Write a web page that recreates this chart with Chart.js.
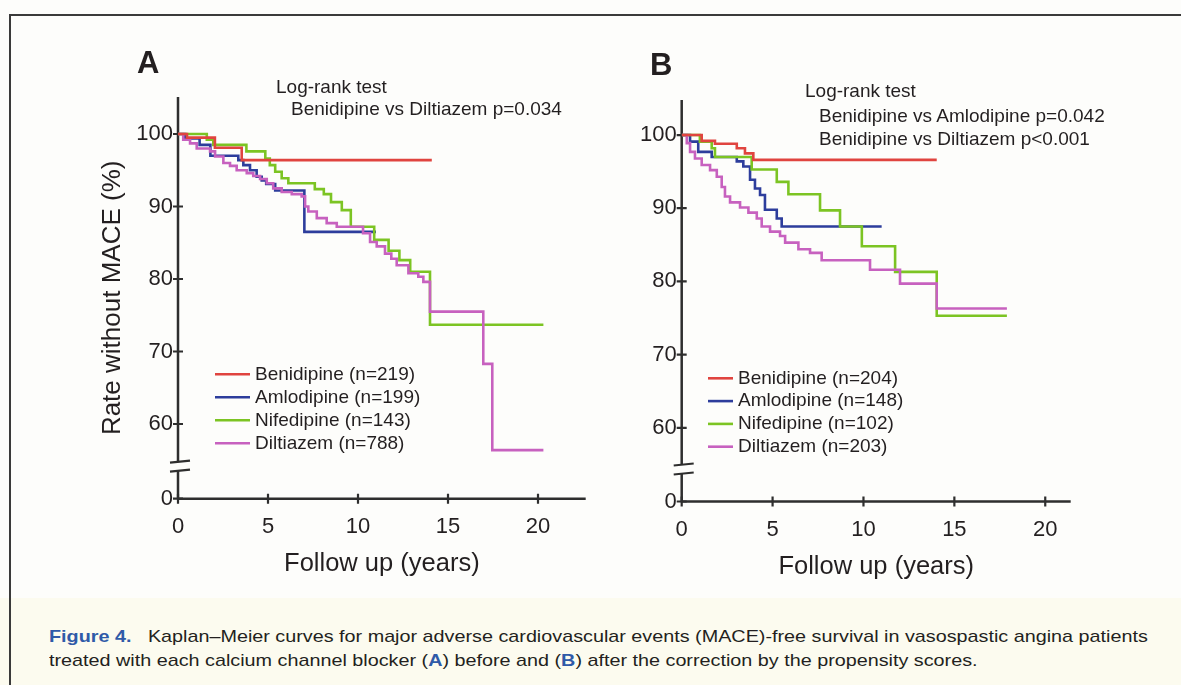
<!DOCTYPE html>
<html>
<head>
<meta charset="utf-8">
<script src="https://cdn.jsdelivr.net/npm/chart.js@4.4.0/dist/chart.umd.min.js"></script>
<style>
  html, body { margin: 0; padding: 0; background: #fdfdfb; }
  #page { position: relative; width: 1181px; height: 685px; overflow: hidden;
          font-family: "Liberation Sans", Arial, sans-serif; color: #231f20; }
  #band { position: absolute; left: 0; top: 598px; right: 0; bottom: 0; background: #fcfbef; }
  #frame { position: absolute; left: 9px; top: 14px; right: -5px; bottom: -5px;
           border-left: 2px solid #3a3a3a; border-top: 2px solid #3a3a3a; }
  canvas { position: absolute; top: 0; }
  .note { position: absolute; font-size: 19px; line-height: 19px; white-space: nowrap; }
  .letter { position: absolute; font-size: 31px; line-height: 31px; font-weight: bold; }
  .cap { position: absolute; left: 49px; font-size: 17px; line-height: 17px; white-space: nowrap;
         transform-origin: 0 0; }
  .fig { font-weight: bold; color: #2f5aa8; }
  .bl { font-weight: bold; color: #2f5aa8; }
</style>
</head>
<body>
<div id="page">
  <div id="band"></div>
  <div id="frame"></div>
  <canvas id="chartA" width="620" height="600" style="left:0px"></canvas>
  <canvas id="chartB" width="581" height="600" style="left:600px"></canvas>

  <div class="letter" style="left:137px; top:47px">A</div>
  <div class="letter" style="left:650px; top:49px">B</div>

  <div class="note" style="left:276px; top:77px">Log-rank test</div>
  <div class="note" style="left:291px; top:99px">Benidipine vs Diltiazem p=0.034</div>

  <div class="note" style="left:805px; top:81px">Log-rank test</div>
  <div class="note" style="left:819px; top:106px">Benidipine vs Amlodipine p=0.042</div>
  <div class="note" style="left:819px; top:129px">Benidipine vs Diltiazem p&lt;0.001</div>

  <div class="cap" id="cap1" style="top:628px"><span class="fig">Figure 4.</span>&nbsp;&nbsp;&nbsp;Kaplan–Meier curves for major adverse cardiovascular events (MACE)-free survival in vasospastic angina patients</div>
  <div class="cap" id="cap2" style="top:652px">treated with each calcium channel blocker (<span class="bl">A</span>) before and (<span class="bl">B</span>) after the correction by the propensity scores.</div>
</div>
<script>
// drugs and group sizes
const drugs = ['Benidipine', 'Amlodipine', 'Nifedipine', 'Diltiazem'];
const nBefore = [219, 199, 143, 788];
const nAfter = [204, 148, 102, 203];
const drugColors = ['#e0443f', '#2d3d9c', '#7cc423', '#c761bf'];
const drawOrder = [0, 3, 2, 1];   // lower = drawn on top

// axis ticks
const xTicks = [0, 5, 10, 15, 20];
const yTicks = [60, 70, 80, 90, 100];
const breakLabel = '0';

// Panel A (before correction): follow-up years and MACE-free rate (%)
const timeA_beni = [0, 0.5, 2.05, 3.54, 14.1];
const rateA_beni = [100, 99.5, 98.1, 96.4, 96.4];
const timeA_amlo = [0, 0.4, 1.2, 1.8, 3.35, 3.63, 4.0, 4.37, 4.65, 4.9, 5.4, 7.02, 11.0];
const rateA_amlo = [100, 99.4, 98.5, 97.0, 96.4, 95.7, 95.0, 94.1, 93.6, 93.1, 92.2, 86.5, 86.5];
const timeA_nife = [0, 1.6, 1.96, 3.8, 4.85, 5.1, 5.4, 5.76, 6.13, 7.6, 8.1, 8.5, 9.1, 9.6, 10.9, 11.7, 12.3, 12.9, 14.0, 20.3];
const rateA_nife = [100, 99.2, 98.5, 97.6, 96.6, 95.7, 94.8, 93.9, 93.2, 92.4, 91.7, 90.6, 89.5, 87.2, 85.4, 83.9, 82.6, 81.0, 73.7, 73.7];
const timeA_dilt = [0, 0.29, 0.67, 1.04, 1.78, 2.06, 2.52, 2.89, 3.26, 3.82, 4.18, 4.56, 4.93, 5.29, 5.76, 6.32, 6.87, 7.06, 7.24, 7.71, 8.26, 8.82,
                    10.28, 10.67, 11.04, 11.5, 11.85, 12.15, 12.8, 13.35, 13.63, 14.0, 16.96, 17.46, 20.3];
const rateA_dilt = [100, 99.2, 98.7, 98.0, 97.6, 96.9, 96.0, 95.6, 95.0, 94.6, 94.2, 93.8, 93.2, 92.5, 92.0, 91.7, 91.4, 90.0, 89.3, 88.4, 87.7, 87.2,
                    86.3, 85.1, 84.5, 83.5, 82.8, 81.9, 80.8, 80.3, 79.6, 75.5, 68.3, 56.4, 56.4];

// Panel B (after propensity score correction)
const timeB_beni = [0, 1.1, 1.83, 3.03, 3.48, 3.94, 14.03];
const rateB_beni = [100, 99.2, 98.8, 98.2, 97.5, 96.6, 96.6];
const timeB_amlo = [0, 0.46, 0.91, 1.65, 3.03, 3.39, 3.76, 4.03, 4.31, 4.58, 5.23, 5.5, 11.0];
const rateB_amlo = [100, 99.1, 97.7, 97.0, 96.4, 95.7, 93.9, 92.7, 91.8, 89.8, 88.6, 87.5, 87.5];
const timeB_nife = [0, 1.0, 1.65, 1.83, 3.85, 5.23, 5.87, 7.61, 8.71, 9.91, 11.74, 14.03, 17.89];
const rateB_nife = [100, 99.1, 98.2, 97.0, 95.3, 93.6, 91.9, 89.7, 87.5, 84.8, 81.3, 75.3, 75.3];
const timeB_dilt = [0, 0.28, 0.46, 0.73, 1.1, 1.56, 1.93, 2.2, 2.38, 2.66, 3.21, 3.67, 4.13, 4.4, 4.86, 5.41, 5.69, 6.42, 7.06, 7.7, 10.36, 12.01, 14.03, 17.89];
const rateB_dilt = [100, 98.9, 97.7, 96.8, 95.9, 95.2, 94.3, 92.9, 91.6, 90.8, 90.1, 89.4, 88.6, 87.5, 86.8, 86.2, 85.3, 84.4, 83.9, 82.9, 81.6, 79.7, 76.3, 76.3];

const ink = '#231f20';
Chart.defaults.font.family = "'Liberation Sans', Arial, sans-serif";
Chart.defaults.color = ink;

// axes drawn by hand so the y axis can have its break
const brokenAxis = {
  id: 'brokenAxis',
  beforeDatasetsDraw(chart, args, opts) {
    const {ctx, chartArea: {left, right, top, bottom}, scales: {x, y}} = chart;
    ctx.save();
    ctx.strokeStyle = '#2e2e2e';
    ctx.lineWidth = 2.5;
    ctx.beginPath();
    ctx.moveTo(left, top); ctx.lineTo(left, bottom - opts.gapTop);
    ctx.moveTo(left, bottom - opts.gapBottom); ctx.lineTo(left, bottom);
    ctx.moveTo(left - 1, bottom); ctx.lineTo(right, bottom);
    ctx.stroke();
    ctx.lineWidth = 2.2;
    ctx.beginPath();
    [opts.gapTop, opts.gapBottom].forEach(g => {
      ctx.moveTo(left - 8, bottom - g + 1); ctx.lineTo(left + 12, bottom - g - 1);
    });
    y.ticks.forEach(t => {
      const py = y.getPixelForValue(t.value);
      ctx.moveTo(left - 5, py); ctx.lineTo(left + 5, py);
    });
    x.ticks.forEach(t => {
      const px = x.getPixelForValue(t.value);
      ctx.moveTo(px, bottom - 5); ctx.lineTo(px, bottom + 5);
    });
    ctx.stroke();
    ctx.restore();
  }
};

// legend drawn inside the plot
const kmLegend = {
  id: 'kmLegend',
  afterDraw(chart, args, opts) {
    const ctx = chart.ctx;
    ctx.save();
    ctx.font = "19px 'Liberation Sans', Arial, sans-serif";
    ctx.textBaseline = 'middle';
    ctx.fillStyle = ink;
    chart.data.datasets.forEach((ds, i) => {
      const yy = opts.y + i * opts.dy;
      ctx.strokeStyle = ds.borderColor;
      ctx.lineWidth = 2.6;
      ctx.beginPath();
      ctx.moveTo(opts.x, yy); ctx.lineTo(opts.x + opts.len, yy);
      ctx.stroke();
      ctx.fillText(ds.label, opts.x + opts.len + 5, yy);
    });
    ctx.restore();
  }
};

function toPoints(t, v) {
  return t.map((x, i) => ({x: x, y: v[i]}));
}

function makeChart(id, cfg) {
  const datasets = cfg.series.map((s, i) => ({
    label: drugs[i] + ' (n=' + cfg.n[i] + ')',
    data: toPoints(s[0], s[1]),
    borderColor: drugColors[i],
    backgroundColor: drugColors[i],
    borderWidth: 2.6,
    stepped: true,
    pointRadius: 0,
    fill: false,
    order: drawOrder[i]
  }));
  return new Chart(document.getElementById(id), {
    type: 'line',
    data: { datasets: datasets },
    plugins: [brokenAxis, kmLegend],
    options: {
      responsive: false,
      animation: false,
      layout: { padding: cfg.padding },
      plugins: {
        legend: { display: false },
        tooltip: { enabled: false },
        brokenAxis: { gapTop: 37, gapBottom: 28 },
        kmLegend: cfg.legend
      },
      scales: {
        x: {
          type: 'linear', min: 0, max: cfg.xMax,
          afterBuildTicks: s => { s.ticks = xTicks.map(v => ({value: v})); },
          afterFit: s => { s.height = 80.6; },
          grid: { display: false, drawTicks: false },
          border: { display: false },
          ticks: { font: { size: 22 }, padding: 15, maxRotation: 0, color: ink },
          title: { display: true, text: 'Follow up (years)', font: { size: 25.5 }, padding: 0, color: ink }
        },
        y: {
          type: 'linear', min: cfg.yMin, max: cfg.yMax,
          afterBuildTicks: s => { s.ticks = [cfg.yMin].concat(yTicks).map(v => ({value: v})); },
          afterFit: s => { s.width = cfg.yWidth; },
          grid: { display: false, drawTicks: false },
          border: { display: false },
          ticks: { font: { size: 22 }, padding: 5, color: ink,
                   callback: v => (v === cfg.yMin ? breakLabel : v) },
          title: { display: cfg.yTitle, text: 'Rate without MACE (%)', font: { size: 26 }, padding: 0, color: ink }
        }
      }
    }
  });
}

makeChart('chartA', {
  n: nBefore,
  series: [[timeA_beni, rateA_beni], [timeA_amlo, rateA_amlo], [timeA_nife, rateA_nife], [timeA_dilt, rateA_dilt]],
  xMax: 22.65, yMin: 49.7, yMax: 105.1, yWidth: 80.6, yTitle: true,
  padding: { left: 97.4, right: 34.3, top: 97.0, bottom: 20.7 },
  legend: { x: 215, y: 374.3, dy: 23, len: 35 }
});

makeChart('chartB', {
  n: nAfter,
  series: [[timeB_beni, rateB_beni], [timeB_amlo, rateB_amlo], [timeB_nife, rateB_nife], [timeB_dilt, rateB_dilt]],
  xMax: 21.4, yMin: 49.93, yMax: 104.8, yWidth: 60, yTitle: false,
  padding: { left: 21.7, right: 110.3, top: 99.9, bottom: 17.9 },
  legend: { x: 108, y: 378.3, dy: 22.8, len: 25 }
});

// stretch the caption to the printed line width
const cap1 = document.getElementById('cap1');
const cap2 = document.getElementById('cap2');
const k = 1099 / cap1.offsetWidth;
cap1.style.transform = 'scaleX(' + k + ')';
cap2.style.transform = 'scaleX(' + k + ')';
</script>
</body>
</html>
